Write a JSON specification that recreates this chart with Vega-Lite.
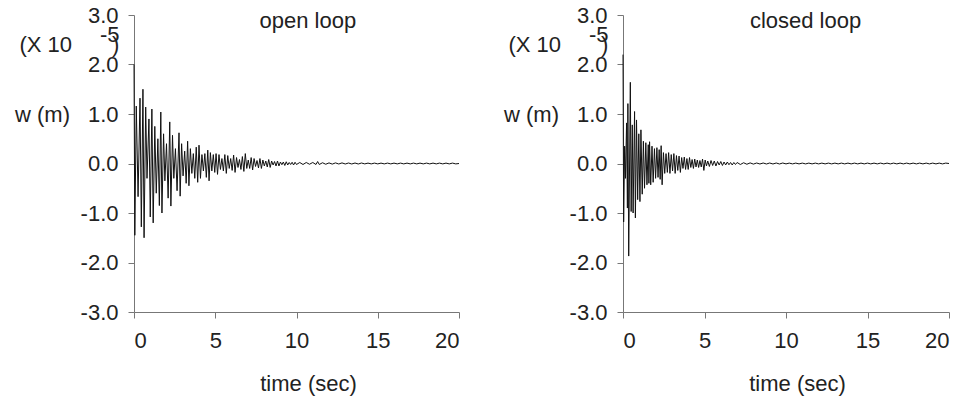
{
  "$schema": "https://vega.github.io/schema/vega-lite/v6.json",
  "background": "white",
  "padding": {"left": 14, "top": 4, "right": 5, "bottom": 5},
  "config": {
    "view": {"stroke": null},
    "font": "Liberation Sans",
    "axis": {"grid": false, "domainColor": "#777777", "tickColor": "#777777", "labelColor": "#222222", "titleColor": "#222222", "labelFont": "Liberation Sans", "titleFont": "Liberation Sans", "labelFontSize": 22, "titleFontSize": 22, "titleFontWeight": "normal", "tickSize": 6}
  },
  "datasets": {
    "open": [
      {"t":0,"w":2.0},{"t":0.05,"w":-1.45},{"t":0.14,"w":1.16},{"t":0.25,"w":-0.67},{"t":0.37,"w":1.32},{"t":0.45,"w":-1.28},{"t":0.55,"w":1.5},{"t":0.62,"w":-1.5},{"t":0.72,"w":1.14},{"t":0.8,"w":-0.3},{"t":0.92,"w":0.9},{"t":1.0,"w":-1.08},{"t":1.1,"w":1.1},{"t":1.18,"w":-1.2},{"t":1.28,"w":0.75},{"t":1.37,"w":-0.6},{"t":1.47,"w":0.5},{"t":1.56,"w":-0.85},{"t":1.65,"w":1.04},{"t":1.72,"w":-1.0},{"t":1.82,"w":0.6},{"t":1.9,"w":-0.35},{"t":2.0,"w":0.4},{"t":2.1,"w":-0.7},{"t":2.2,"w":0.84},{"t":2.27,"w":-0.86},{"t":2.37,"w":0.57},{"t":2.45,"w":-0.3},{"t":2.55,"w":0.3},{"t":2.65,"w":-0.55},{"t":2.77,"w":0.62},{"t":2.84,"w":-0.66},{"t":2.93,"w":0.4},{"t":3.02,"w":-0.25},{"t":3.12,"w":0.25},{"t":3.21,"w":-0.4},{"t":3.3,"w":0.45},{"t":3.38,"w":-0.45},
      {"t":3.47,"w":0.3},{"t":3.56,"w":-0.2},{"t":3.65,"w":0.2},{"t":3.74,"w":-0.3},{"t":3.83,"w":0.33},{"t":3.92,"w":-0.38},{"t":4.0,"w":0.37},{"t":4.09,"w":-0.3},{"t":4.18,"w":0.18},{"t":4.27,"w":-0.15},{"t":4.36,"w":0.2},{"t":4.45,"w":-0.28},{"t":4.54,"w":0.27},{"t":4.62,"w":-0.35},{"t":4.7,"w":0.22},{"t":4.79,"w":-0.15},{"t":4.88,"w":0.18},{"t":4.97,"w":-0.18},{"t":5.05,"w":0.2},{"t":5.14,"w":-0.22},{"t":5.23,"w":0.18},{"t":5.32,"w":-0.12},{"t":5.41,"w":0.1},{"t":5.5,"w":-0.15},{"t":5.59,"w":0.18},{"t":5.68,"w":-0.2},{"t":5.77,"w":0.16},{"t":5.86,"w":-0.1},{"t":5.95,"w":0.1},{"t":6.04,"w":-0.14},{"t":6.13,"w":0.17},{"t":6.22,"w":-0.18},{"t":6.31,"w":0.12},{"t":6.4,"w":-0.08},{"t":6.49,"w":0.08},{"t":6.58,"w":-0.12},{"t":6.67,"w":0.14},{"t":6.76,"w":-0.16},{"t":6.85,"w":0.2},{"t":6.94,"w":-0.1},{"t":7.03,"w":0.07},{"t":7.12,"w":-0.1},{"t":7.21,"w":0.12},{"t":7.3,"w":-0.13},{"t":7.39,"w":0.1},{"t":7.48,"w":-0.06},{"t":7.57,"w":0.06},{"t":7.66,"w":-0.09},{"t":7.75,"w":0.1},{"t":7.84,"w":-0.1},{"t":7.93,"w":0.07},{"t":8.02,"w":-0.05},{"t":8.11,"w":0.05},{"t":8.2,"w":-0.07},{"t":8.29,"w":0.08},{"t":8.38,"w":-0.08},{"t":8.47,"w":0.05},{"t":8.56,"w":-0.03},{"t":8.65,"w":0.04},{"t":8.74,"w":-0.05},{"t":8.83,"w":0.05},{"t":8.92,"w":-0.05},{"t":9.01,"w":0.03},{"t":9.1,"w":-0.025},{"t":9.19,"w":0.03},{"t":9.28,"w":-0.04},{"t":9.37,"w":0.035},{"t":9.46,"w":-0.03},{"t":9.55,"w":0.02},{"t":9.64,"w":-0.02},{"t":9.73,"w":0.025},{"t":9.82,"w":-0.03},{"t":9.91,"w":0.025},{"t":10.0,"w":-0.02},
      {"t":10.2,"w":0.02},{"t":10.4,"w":-0.02},{"t":10.6,"w":0.02},{"t":10.8,"w":-0.015},{"t":11.0,"w":0.02},{"t":11.2,"w":-0.02},{"t":11.3,"w":0.04},{"t":11.4,"w":-0.02},{"t":11.6,"w":0.015},{"t":11.8,"w":-0.015},{"t":12.0,"w":0.012},{"t":12.2,"w":-0.012},{"t":12.4,"w":0.012},{"t":12.6,"w":-0.01},{"t":12.8,"w":0.012},{"t":13.0,"w":-0.01},{"t":13.2,"w":0.01},{"t":13.4,"w":-0.01},{"t":13.6,"w":0.01},{"t":13.8,"w":-0.01},{"t":14.0,"w":0.01},{"t":14.2,"w":-0.008},{"t":14.4,"w":0.008},{"t":14.6,"w":-0.008},{"t":14.8,"w":0.008},{"t":15.0,"w":-0.008},{"t":15.2,"w":0.008},{"t":15.4,"w":-0.008},{"t":15.6,"w":0.008},{"t":15.8,"w":-0.008},{"t":16.0,"w":0.008},{"t":16.2,"w":-0.008},{"t":16.4,"w":0.008},{"t":16.6,"w":-0.008},{"t":16.8,"w":0.008},{"t":17.0,"w":-0.008},{"t":17.2,"w":0.008},{"t":17.4,"w":-0.008},{"t":17.6,"w":0.008},{"t":17.8,"w":-0.008},{"t":18.0,"w":0.008},{"t":18.2,"w":-0.008},{"t":18.4,"w":0.008},{"t":18.6,"w":-0.008},{"t":18.8,"w":0.008},{"t":19.0,"w":-0.008},{"t":19.2,"w":0.008},{"t":19.4,"w":-0.008},{"t":19.6,"w":0.008},{"t":19.8,"w":-0.008},{"t":20.0,"w":0.0}
    ],
    "closed": [
      {"t":0,"w":2.2},{"t":0.04,"w":-1.18},{"t":0.1,"w":0.35},{"t":0.15,"w":-0.3},{"t":0.22,"w":0.82},{"t":0.27,"w":-0.9},{"t":0.3,"w":1.21},{"t":0.35,"w":-1.87},{"t":0.45,"w":1.64},{"t":0.5,"w":-0.97},{"t":0.57,"w":0.78},{"t":0.62,"w":-1.0},{"t":0.71,"w":1.05},{"t":0.76,"w":-1.1},{"t":0.83,"w":0.88},{"t":0.9,"w":-0.73},{"t":0.97,"w":0.6},{"t":1.04,"w":-0.77},{"t":1.1,"w":0.68},{"t":1.18,"w":-0.62},{"t":1.25,"w":0.45},{"t":1.32,"w":-0.5},{"t":1.4,"w":0.42},{"t":1.47,"w":-0.43},{"t":1.55,"w":0.38},{"t":1.59,"w":-0.4},{"t":1.63,"w":0.44},{"t":1.7,"w":-0.43},{"t":1.78,"w":0.35},{"t":1.85,"w":-0.38},{"t":1.93,"w":0.3},{"t":2.0,"w":-0.3},{"t":2.08,"w":0.32},{"t":2.15,"w":-0.28},{"t":2.22,"w":0.28},{"t":2.28,"w":-0.32},{"t":2.34,"w":0.36},{"t":2.4,"w":-0.43},{"t":2.48,"w":0.22},{"t":2.56,"w":-0.2},{"t":2.64,"w":0.2},{"t":2.72,"w":-0.18},{"t":2.8,"w":0.22},{"t":2.88,"w":-0.2},{"t":2.96,"w":0.18},{"t":3.04,"w":-0.15},{"t":3.12,"w":0.2},{"t":3.2,"w":-0.2},{"t":3.28,"w":0.16},{"t":3.36,"w":-0.14},{"t":3.44,"w":0.15},{"t":3.52,"w":-0.18},{"t":3.6,"w":0.12},{"t":3.68,"w":-0.1},{"t":3.76,"w":0.13},{"t":3.84,"w":-0.12},{"t":3.92,"w":0.1},{"t":4.0,"w":-0.12},{"t":4.08,"w":0.12},{"t":4.16,"w":-0.08},{"t":4.24,"w":0.08},{"t":4.32,"w":-0.1},{"t":4.4,"w":0.09},{"t":4.48,"w":-0.07},{"t":4.56,"w":0.07},{"t":4.64,"w":-0.08},{"t":4.72,"w":0.06},{"t":4.8,"w":-0.07},{"t":4.88,"w":0.09},{"t":4.96,"w":-0.14},{"t":5.04,"w":0.07},{"t":5.12,"w":-0.05},{"t":5.2,"w":0.05},{"t":5.3,"w":-0.06},{"t":5.4,"w":0.06},{"t":5.5,"w":-0.04},{"t":5.6,"w":0.05},{"t":5.7,"w":-0.05},{"t":5.8,"w":0.04},{"t":5.9,"w":-0.03},{"t":6.0,"w":0.04},{"t":6.1,"w":-0.04},{"t":6.2,"w":0.03},{"t":6.3,"w":-0.03},{"t":6.4,"w":0.03},{"t":6.5,"w":-0.025},{"t":6.6,"w":0.02},{"t":6.7,"w":-0.03},{"t":6.8,"w":0.02},{"t":6.9,"w":-0.02},
      {"t":7.0,"w":0.02},{"t":7.2,"w":-0.02},{"t":7.4,"w":0.015},{"t":7.6,"w":-0.015},{"t":7.8,"w":0.012},{"t":8.0,"w":-0.012},{"t":8.2,"w":0.01},{"t":8.4,"w":-0.01},{"t":8.6,"w":0.01},{"t":8.8,"w":-0.01},{"t":9.0,"w":0.01},{"t":9.2,"w":-0.01},{"t":9.4,"w":0.01},{"t":9.6,"w":-0.01},{"t":9.8,"w":0.01},{"t":10.0,"w":-0.008},{"t":10.2,"w":0.008},{"t":10.4,"w":-0.008},{"t":10.6,"w":0.008},{"t":10.8,"w":-0.008},{"t":11.0,"w":0.008},{"t":11.2,"w":-0.008},{"t":11.4,"w":0.008},{"t":11.6,"w":-0.008},{"t":11.8,"w":0.008},{"t":12.0,"w":-0.008},{"t":12.2,"w":0.008},{"t":12.4,"w":-0.008},{"t":12.6,"w":0.008},{"t":12.8,"w":-0.008},{"t":13.0,"w":0.008},{"t":13.2,"w":-0.008},{"t":13.4,"w":0.008},{"t":13.6,"w":-0.008},{"t":13.8,"w":0.008},{"t":14.0,"w":-0.008},{"t":14.2,"w":0.008},{"t":14.4,"w":-0.008},{"t":14.6,"w":0.008},{"t":14.8,"w":-0.008},{"t":15.0,"w":0.008},{"t":15.2,"w":-0.008},{"t":15.4,"w":0.008},{"t":15.6,"w":-0.008},{"t":15.8,"w":0.008},{"t":16.0,"w":-0.008},{"t":16.2,"w":0.008},{"t":16.4,"w":-0.008},{"t":16.6,"w":0.008},{"t":16.8,"w":-0.008},{"t":17.0,"w":0.008},{"t":17.2,"w":-0.008},{"t":17.4,"w":0.008},{"t":17.6,"w":-0.008},{"t":17.8,"w":0.008},{"t":18.0,"w":-0.008},{"t":18.2,"w":0.008},{"t":18.4,"w":-0.008},{"t":18.6,"w":0.008},{"t":18.8,"w":-0.008},{"t":19.0,"w":0.008},{"t":19.2,"w":-0.008},{"t":19.4,"w":0.008},{"t":19.6,"w":-0.008},{"t":19.8,"w":0.008},{"t":20.0,"w":0.0}
    ],
    "one": [{}]
  },
  "spacing": 42,
  "hconcat": [
    {
      "width": 325, "height": 297,
      "layer": [
        {
          "data": {"name": "open"},
          "mark": {"type": "line", "color": "#111111", "strokeWidth": 1},
          "encoding": {
            "x": {"field": "t", "type": "quantitative", "scale": {"domain": [0, 20], "nice": false, "zero": false},
                  "axis": {"values": [0, 5, 10, 15, 20], "format": "d", "labelPadding": 12, "title": "time (sec)", "titleX": 174, "titleY": 71, "titleBaseline": "middle", "titleAnchor": null}},
            "y": {"field": "w", "type": "quantitative", "scale": {"domain": [-3, 3], "nice": false},
                  "axis": {"values": [-3, -2, -1, 0, 1, 2, 3], "labelExpr": "datum.value < 0 ? '-' + format(-datum.value, '.1f') : format(datum.value, '.1f')", "labelPadding": 10, "title": "w (m)", "titleAngle": 0, "titleX": -92, "titleY": 99, "titleAlign": "center", "titleBaseline": "middle"}}
          }
        },
        {
          "data": {"name": "one"},
          "mark": {"type": "text", "text": "open loop", "fontSize": 22, "font": "Liberation Sans", "color": "#222222", "baseline": "middle", "align": "center"},
          "encoding": {"x": {"datum": 10.7}, "y": {"datum": 2.88}}
        },
        {
          "data": {"name": "one"},
          "mark": {"type": "text", "text": "(X 10", "fontSize": 22, "font": "Liberation Sans", "color": "#222222", "baseline": "middle", "align": "right", "dx": -62},
          "encoding": {"x": {"datum": 0}, "y": {"datum": 2.39}}
        },
        {
          "data": {"name": "one"},
          "mark": {"type": "text", "text": "-5", "fontSize": 22, "font": "Liberation Sans", "color": "#222222", "baseline": "middle", "align": "left", "dx": -34},
          "encoding": {"x": {"datum": 0}, "y": {"datum": 2.6}}
        },
        {
          "data": {"name": "one"},
          "mark": {"type": "text", "text": ")", "fontSize": 22, "font": "Liberation Sans", "color": "#222222", "baseline": "middle", "align": "left", "dx": -22},
          "encoding": {"x": {"datum": 0}, "y": {"datum": 2.39}}
        }
      ]
    },
    {
      "width": 326, "height": 297,
      "layer": [
        {
          "data": {"name": "closed"},
          "mark": {"type": "line", "color": "#111111", "strokeWidth": 1},
          "encoding": {
            "x": {"field": "t", "type": "quantitative", "scale": {"domain": [0, 20], "nice": false, "zero": false},
                  "axis": {"values": [0, 5, 10, 15, 20], "format": "d", "labelPadding": 12, "title": "time (sec)", "titleX": 174, "titleY": 71, "titleBaseline": "middle", "titleAnchor": null}},
            "y": {"field": "w", "type": "quantitative", "scale": {"domain": [-3, 3], "nice": false},
                  "axis": {"values": [-3, -2, -1, 0, 1, 2, 3], "labelExpr": "datum.value < 0 ? '-' + format(-datum.value, '.1f') : format(datum.value, '.1f')", "labelPadding": 10, "title": "w (m)", "titleAngle": 0, "titleX": -92, "titleY": 99, "titleAlign": "center", "titleBaseline": "middle"}}
          }
        },
        {
          "data": {"name": "one"},
          "mark": {"type": "text", "text": "closed loop", "fontSize": 22, "font": "Liberation Sans", "color": "#222222", "baseline": "middle", "align": "center"},
          "encoding": {"x": {"datum": 11.2}, "y": {"datum": 2.88}}
        },
        {
          "data": {"name": "one"},
          "mark": {"type": "text", "text": "(X 10", "fontSize": 22, "font": "Liberation Sans", "color": "#222222", "baseline": "middle", "align": "right", "dx": -62},
          "encoding": {"x": {"datum": 0}, "y": {"datum": 2.39}}
        },
        {
          "data": {"name": "one"},
          "mark": {"type": "text", "text": "-5", "fontSize": 22, "font": "Liberation Sans", "color": "#222222", "baseline": "middle", "align": "left", "dx": -34},
          "encoding": {"x": {"datum": 0}, "y": {"datum": 2.6}}
        },
        {
          "data": {"name": "one"},
          "mark": {"type": "text", "text": ")", "fontSize": 22, "font": "Liberation Sans", "color": "#222222", "baseline": "middle", "align": "left", "dx": -22},
          "encoding": {"x": {"datum": 0}, "y": {"datum": 2.39}}
        }
      ]
    }
  ]
}
